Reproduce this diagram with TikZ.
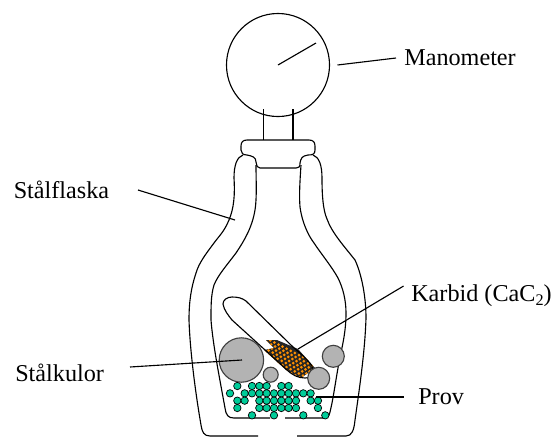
\documentclass[tikz,border=0pt]{standalone}
\usepackage{fontspec}
\setmainfont{Liberation Serif}
\usetikzlibrary{positioning}
\definecolor{ballgray}{HTML}{B3B3B3}
\definecolor{provgreen}{HTML}{00CC99}
\definecolor{karbid}{HTML}{FF9000}
\begin{document}
\begin{tikzpicture}[
    x=0.025cm, y=-0.025cm,
    wall/.style={draw=black, line width=0.8pt},
    ball/.style={draw=black!75, line width=0.8pt, fill=ballgray},
    grain/.style={draw=black, line width=0.5pt, fill=provgreen},
    leader/.style={draw=black, line width=0.8pt},
    caption/.style={font=\fontsize{17.2pt}{20pt}\selectfont, inner sep=0pt, anchor=base west}
]
\useasboundingbox (0,0) rectangle (560,437);

% Manometer
\node[circle, draw, line width=0.8pt, minimum size=2.575cm, inner sep=0pt] (gauge) at (278,65) {};
\coordinate (needleA) at (278,65);
\coordinate (needleB) at (316,43);
\draw[wall] (needleA) -- (needleB);
\draw[wall] (263.5,109) -- (263.5,140);
\draw[wall] (293,109) -- (293,140);

% Cap
\draw[wall] (247,140) -- (309,140) .. controls (313,140) and (315,142) .. (315,146) -- (315,150)
    .. controls (315,154) and (313,155) .. (308,155) .. controls (302,156) and (301,158) .. (300,163)
    .. controls (300,167) and (299,168) .. (296,168) -- (260,168) .. controls (257,168) and (257,166) .. (256,162)
    .. controls (256,157) and (252,156) .. (247,155) .. controls (243,155) and (241,153) .. (241,150) -- (241,146)
    .. controls (241,142) and (243,140) .. (247,140) -- cycle;

% Bottle, left wall
\draw[wall] (243,155) .. controls (237,157) and (234,165) .. (234,178)
    .. controls (235,195) and (234,208) .. (229,220) .. controls (224,232) and (219,236) .. (214,243)
    .. controls (205,255) and (199,263) .. (196,273) .. controls (191,288) and (189,302) .. (189,320)
    .. controls (190,350) and (195,390) .. (201,425) .. controls (202,432) and (204,436) .. (210,436) -- (258,436);
\draw[wall] (256,165) .. controls (256,180) and (257,198) .. (255,210) .. controls (252,228) and (244,241) .. (236,253)
    .. controls (227,265) and (218,275) .. (214,285) .. controls (211,295) and (211,305) .. (211,320)
    .. controls (213,345) and (219,375) .. (225,408) .. controls (226,415) and (228,418) .. (234,418) -- (270,418);

% Bottle, right wall
\draw[wall] (313,155) .. controls (319,157) and (322,165) .. (322,178)
    .. controls (322,195) and (323,210) .. (327,219) .. controls (332,233) and (344,246) .. (355,260)
    .. controls (362,275) and (366,298) .. (366,318) .. controls (365,350) and (360,385) .. (355,420)
    .. controls (354,430) and (352,436) .. (346,436) -- (297,436);
\draw[wall] (301,165) .. controls (300,180) and (299,195) .. (300,207) .. controls (302,222) and (308,235) .. (314,243)
    .. controls (322,255) and (332,267) .. (338,278) .. controls (343,288) and (346,300) .. (346,313)
    .. controls (346,335) and (341,350) .. (338,368) .. controls (335,385) and (333,400) .. (330,412)
    .. controls (329,417) and (327,418) .. (323,418) -- (285,418);

% Tube with carbide
\begin{scope}
\clip (266,340) -- (277,340) -- (298,349) -- (315,368) -- (301,378) -- (286,370) -- (264,350) -- (274,348) -- cycle;
\fill[black!85] (260,335) rectangle (320,380);
\foreach \row in {0,...,10}
  \foreach \col in {0,...,13}
    \fill[karbid] ({258+\col*4.1+\row*0.8},{334+\col*2.1+\row*4.1}) circle (1.5);
\end{scope}
\draw[wall] (223,304) .. controls (223,300) and (227,297) .. (232,297) .. controls (238,297) and (242,298) .. (246,301)
    -- (293,347) .. controls (300,353) and (308,360) .. (312,366) .. controls (314,373) and (311,379) .. (305,378)
    .. controls (298,378) and (292,375) .. (286,369) -- (232,320) .. controls (228,315) and (224,310) .. (223,304) -- cycle;

% Steel balls
\node[circle, ball, minimum size=1.11cm, inner sep=0pt] (ballA) at (241.4,360) {};
\node[circle, ball, minimum size=0.375cm, inner sep=0pt] (ballB) at (270.7,374.7) {};
\node[circle, ball, minimum size=0.55cm, inner sep=0pt] (ballC) at (318.7,378.3) {};
\node[circle, ball, minimum size=0.55cm, inner sep=0pt] (ballD) at (333.3,356.3) {};

% Sample grains
\foreach \r/\cols in {0/{1,3,4,5,7,8},1/{0,2,3,4,5,6,7,8,9,10,11},2/{1,2,4,5,6,7,8,9,11,12},3/{1,4,5,6,7,8,9,12},4/{3,6,10,13}}
  \foreach \k in \cols
    \fill[grain] ({230+7.33*\k},{386+7.33*\r}) circle (3.7);

% Labels
\node[caption] (manometer) at (404,65) {Manometer};
\node[caption] (staalflaska) at (13.5,198) {Stålflaska};
\node[caption] (staalkulor) at (15,381) {Stålkulor};
\node[caption] (karbidlabel) at (411,301) {Karbid (CaC\raisebox{-0.4ex}{\fontsize{11.5pt}{12pt}\selectfont 2})};
\node[caption] (prov) at (418,404) {Prov};

% Leaders
\coordinate (manoA) at (337.5,65);
\coordinate (manoB) at (396,58);
\coordinate (flaskaA) at (138,190);
\coordinate (flaskaB) at (235,220);
\coordinate (kulorA) at (130,367);
\coordinate (kulorB) at (242,360);
\coordinate (karbidA) at (403.6,286);
\coordinate (karbidB) at (298,349);
\coordinate (provA) at (403.6,397);
\coordinate (provB) at (316,397);
\draw[leader] (manoA) -- (manoB);
\draw[leader] (flaskaA) -- (flaskaB);
\draw[leader] (kulorA) -- (kulorB);
\draw[leader] (karbidA) -- (karbidB);
\draw[leader] (provA) -- (provB);
\end{tikzpicture}
\end{document}
